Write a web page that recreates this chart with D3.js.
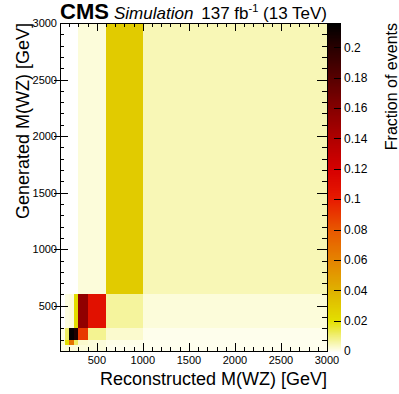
<!DOCTYPE html>
<html><head><meta charset="utf-8">
<script src="https://cdn.jsdelivr.net/npm/d3@7"></script>
<style>
body{margin:0;background:#fff;}
svg{display:block;font-family:"Liberation Sans",Arial,Helvetica,sans-serif;}
</style>
</head><body><svg id="c" width="399" height="394"></svg>
<script>
// ---- data ----
const xEdges = [100, 150, 200, 250, 300, 400, 600, 1000, 3000];
const yEdges = [100, 150, 200, 300, 600, 3000];
// fraction of events per reconstructed-mass bin, one array per generated-mass row
const row100to150  = [0.001, 0.002, 0.002, 0.002, 0.002, 0.002, 0.0005, 0.0003];
const row150to200  = [0.002, 0.020, 0.068, 0.012, 0.003, 0.002, 0.0008, 0.0003];
const row200to300  = [0.001, 0.012, 0.215, 0.205, 0.090, 0.008, 0.003, 0.0005];
const row300to600  = [0, 0.0015, 0.002, 0.021, 0.155, 0.108, 0.007, 0.002];
const row600to3000 = [0, 0, 0, 0, 0.002, 0.002, 0.029, 0.005];
const xTickLabels = [500, 1000, 1500, 2000, 2500, 3000];
const yTickLabels = [500, 1000, 1500, 2000, 2500, 3000];
const zTickLabels = [0, 0.02, 0.04, 0.06, 0.08, 0.1, 0.12, 0.14, 0.16, 0.18, 0.2];
const zMax = 0.216;

// ---- layout ----
const L = 60, R = 327, T = 23, B = 351;
const CBL = 328, CBR = 341;
const svg = d3.select("#c");
const x = d3.scaleLinear().domain([100, 3000]).range([L, R]);
const y = d3.scaleLinear().domain([100, 3000]).range([B, T]);
const z = d3.scaleLinear().domain([0, zMax]).range([B, T]);

const zStops  = [0, 0.02, 0.04, 0.06, 0.08, 0.10, 0.12, 0.14, 0.16, 0.18, 0.20, zMax];
const zColors = ["#fffff2", "#e3e000", "#dfb200", "#e58400", "#e85800", "#e81c00",
                 "#d60000", "#b00000", "#860000", "#580000", "#2a0000", "#000000"];
const color = d3.scaleLinear().domain(zStops).range(zColors)
  .interpolate(d3.interpolateRgb).clamp(true);

// ---- cells ----
const rows = [row100to150, row150to200, row200to300, row300to600, row600to3000];
const cells = [];
rows.forEach((r, j) => r.forEach((v, i) => {
  if (v > 0) cells.push({x0: xEdges[i], x1: xEdges[i+1], y0: yEdges[j], y1: yEdges[j+1], v});
}));
svg.append("g").selectAll("rect").data(cells).join("rect")
  .attr("x", d => x(d.x0)).attr("y", d => y(d.y1))
  .attr("width", d => x(d.x1) - x(d.x0)).attr("height", d => y(d.y0) - y(d.y1))
  .attr("fill", d => color(d.v)).attr("shape-rendering", "crispEdges");

// ---- ticks ----
const g = svg.append("g").attr("stroke", "#000").attr("stroke-width", 1)
  .attr("shape-rendering", "crispEdges");
const minors = d3.range(200, 3000, 100).filter(v => v % 500 !== 0);
// bottom & top
g.selectAll(".xmaj").data(xTickLabels.filter(v => v < 3000)).join("g").each(function(v){
  const s = d3.select(this), px = Math.round(x(v)) + 0.5;
  s.append("line").attr("x1", px).attr("x2", px).attr("y1", B).attr("y2", B - 8);
  s.append("line").attr("x1", px).attr("x2", px).attr("y1", T).attr("y2", T + 8);
});
g.selectAll(".xmin").data(minors).join("g").each(function(v){
  const s = d3.select(this), px = Math.round(x(v)) + 0.5;
  s.append("line").attr("x1", px).attr("x2", px).attr("y1", B).attr("y2", B - 4);
  s.append("line").attr("x1", px).attr("x2", px).attr("y1", T).attr("y2", T + 4);
});
// left & right
g.selectAll(".ymaj").data(yTickLabels.filter(v => v < 3000)).join("g").each(function(v){
  const s = d3.select(this), py = Math.round(y(v)) + 0.5;
  s.append("line").attr("x1", L - 6).attr("x2", L + 8).attr("y1", py).attr("y2", py);
  s.append("line").attr("x1", R - 10).attr("x2", R).attr("y1", py).attr("y2", py);
});
g.selectAll(".ymin").data(minors).join("g").each(function(v){
  const s = d3.select(this), py = Math.round(y(v)) + 0.5;
  s.append("line").attr("x1", L).attr("x2", L + 4).attr("y1", py).attr("y2", py);
  s.append("line").attr("x1", R - 5).attr("x2", R).attr("y1", py).attr("y2", py);
});
// frame
svg.append("rect").attr("x", L + 0.5).attr("y", T + 0.5)
  .attr("width", R - L).attr("height", B - T)
  .attr("fill", "none").attr("stroke", "#000").attr("shape-rendering", "crispEdges");

// ---- tick labels ----
svg.append("g").selectAll("text").data(xTickLabels).join("text")
  .attr("x", d => x(d)).attr("y", 364).attr("text-anchor", "middle")
  .attr("font-size", 11).text(d => d);
svg.append("g").selectAll("text").data(yTickLabels).join("text")
  .attr("x", 57).attr("y", d => y(d)).attr("dy", "0.36em").attr("text-anchor", "end")
  .attr("font-size", 11).text(d => d);

// ---- axis titles ----
svg.append("text").attr("x", R).attr("y", 385).attr("text-anchor", "end")
  .attr("font-size", 18).text("Reconstructed M(WZ) [GeV]");
svg.append("text").attr("transform", `translate(29,${T}) rotate(-90)`)
  .attr("text-anchor", "end").attr("font-size", 18).text("Generated M(WZ) [GeV]");

// ---- colour bar ----
const nSlices = 328;
const slices = d3.range(nSlices).map(i => zMax * (i + 0.5) / nSlices);
svg.append("g").selectAll("rect").data(slices).join("rect")
  .attr("x", CBL).attr("width", CBR - CBL)
  .attr("y", d => z(d + zMax / nSlices / 2))
  .attr("height", d => z(d - zMax / nSlices / 2) - z(d + zMax / nSlices / 2) + 0.6)
  .attr("fill", d => color(d));
svg.append("g").attr("stroke", "#000").attr("shape-rendering", "crispEdges")
  .selectAll("line").data(zTickLabels.filter(v => v > 0)).join("line")
  .attr("x1", CBR - 7).attr("x2", CBR)
  .attr("y1", d => Math.round(z(d)) + 0.5).attr("y2", d => Math.round(z(d)) + 0.5);
svg.append("g").selectAll("text").data(zTickLabels).join("text")
  .attr("x", 344).attr("y", d => z(d)).attr("dy", "0.36em")
  .attr("font-size", 12).text(d => String(+d.toFixed(2)));
svg.append("text").attr("transform", `translate(397,${T}) rotate(-90)`)
  .attr("text-anchor", "end").attr("font-size", 16).text("Fraction of events");

// ---- header ----
svg.append("text").attr("x", L).attr("y", 19).attr("font-size", 22)
  .attr("font-weight", "bold").text("CMS");
svg.append("text").attr("x", 114).attr("y", 19).attr("font-size", 17)
  .attr("font-style", "italic").text("Simulation");
const lumi = svg.append("text").attr("x", R).attr("y", 19).attr("text-anchor", "end")
  .attr("font-size", 17);
lumi.append("tspan").text("137 fb");
lumi.append("tspan").attr("font-size", 11).attr("dy", -7).text("-1");
lumi.append("tspan").attr("dy", 7).text(" (13 TeV)");
</script>
</body></html>
